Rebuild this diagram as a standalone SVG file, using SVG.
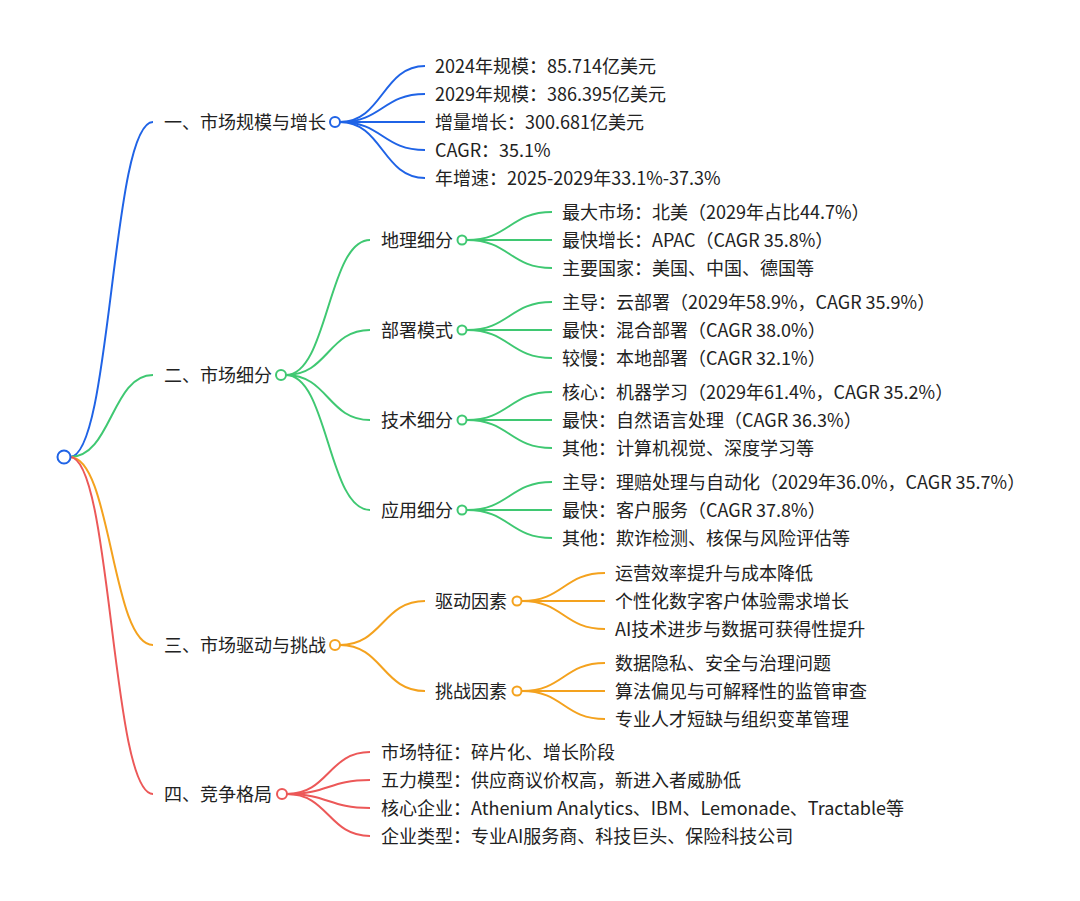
<svg xmlns="http://www.w3.org/2000/svg" width="1080" height="901" viewBox="0 0 1080 901">
<style>
text{font-family:"Noto Sans CJK SC","Noto Sans",sans-serif;font-size:18px;fill:#222}
.l{fill:none;stroke-width:2}
.b{stroke:#1f63e6}.g{stroke:#3fc872}.o{stroke:#f4a21e}.r{stroke:#ec5858}
circle{fill:#fff;stroke-width:2}
</style>
<rect width="1080" height="901" fill="#fff"/>
<g id="connectors">
<path class="l b" d="M70,457 C111.5,457 111.5,122 153,122"/>
<path class="l g" d="M70,457 C111.5,457 111.5,375 153,375"/>
<path class="l o" d="M70,457 C111.5,457 111.5,645 153,645"/>
<path class="l r" d="M70,457 C111.5,457 111.5,794 153,794"/>
<path class="l b" d="M340,122 C382.5,122 382.5,66 425,66"/>
<path class="l b" d="M340,122 C382.5,122 382.5,94 425,94"/>
<path class="l b" d="M340,122 C382.5,122 382.5,122 425,122"/>
<path class="l b" d="M340,122 C382.5,122 382.5,150 425,150"/>
<path class="l b" d="M340,122 C382.5,122 382.5,178 425,178"/>
<path class="l g" d="M286,375 C328,375 328,240 370,240"/>
<path class="l g" d="M286,375 C328,375 328,330 370,330"/>
<path class="l g" d="M286,375 C328,375 328,420 370,420"/>
<path class="l g" d="M286,375 C328,375 328,510 370,510"/>
<path class="l g" d="M467,240 C509.5,240 509.5,212 552,212"/>
<path class="l g" d="M467,240 C509.5,240 509.5,240 552,240"/>
<path class="l g" d="M467,240 C509.5,240 509.5,268 552,268"/>
<path class="l g" d="M467,330 C509.5,330 509.5,302 552,302"/>
<path class="l g" d="M467,330 C509.5,330 509.5,330 552,330"/>
<path class="l g" d="M467,330 C509.5,330 509.5,358 552,358"/>
<path class="l g" d="M467,420 C509.5,420 509.5,392 552,392"/>
<path class="l g" d="M467,420 C509.5,420 509.5,420 552,420"/>
<path class="l g" d="M467,420 C509.5,420 509.5,448 552,448"/>
<path class="l g" d="M467,510 C509.5,510 509.5,482 552,482"/>
<path class="l g" d="M467,510 C509.5,510 509.5,510 552,510"/>
<path class="l g" d="M467,510 C509.5,510 509.5,538 552,538"/>
<path class="l o" d="M340,645 C382.5,645 382.5,601 425,601"/>
<path class="l o" d="M340,645 C382.5,645 382.5,691 425,691"/>
<path class="l o" d="M522,601 C563.5,601 563.5,573 605,573"/>
<path class="l o" d="M522,601 C563.5,601 563.5,601 605,601"/>
<path class="l o" d="M522,601 C563.5,601 563.5,629 605,629"/>
<path class="l o" d="M522,691 C563.5,691 563.5,663 605,663"/>
<path class="l o" d="M522,691 C563.5,691 563.5,691 605,691"/>
<path class="l o" d="M522,691 C563.5,691 563.5,719 605,719"/>
<path class="l r" d="M287,794 C328.5,794 328.5,752 370,752"/>
<path class="l r" d="M287,794 C328.5,794 328.5,780 370,780"/>
<path class="l r" d="M287,794 C328.5,794 328.5,808 370,808"/>
<path class="l r" d="M287,794 C328.5,794 328.5,836 370,836"/>
</g>
<g id="root"><circle cx="64" cy="457" r="6.5" class="b"/></g>
<g id="n1"><text x="164" y="128.5">一、市场规模与增长</text><circle cx="335" cy="122" r="5" class="b"/></g>
<g id="n1-1"><text x="435" y="72.5">2024年规模：85.714亿美元</text></g>
<g id="n1-2"><text x="435" y="100.5">2029年规模：386.395亿美元</text></g>
<g id="n1-3"><text x="435" y="128.5">增量增长：300.681亿美元</text></g>
<g id="n1-4"><text x="435" y="156.5">CAGR：35.1%</text></g>
<g id="n1-5"><text x="435" y="184.5">年增速：2025-2029年33.1%-37.3%</text></g>
<g id="n2"><text x="164" y="381.5">二、市场细分</text><circle cx="281" cy="375" r="5" class="g"/></g>
<g id="n2-1"><text x="381" y="246.5">地理细分</text><circle cx="462" cy="240" r="4.5" class="g"/></g>
<g id="n2-1-1"><text x="562" y="218.5">最大市场：北美（2029年占比44.7%）</text></g>
<g id="n2-1-2"><text x="562" y="246.5">最快增长：APAC（CAGR 35.8%）</text></g>
<g id="n2-1-3"><text x="562" y="274.5">主要国家：美国、中国、德国等</text></g>
<g id="n2-2"><text x="381" y="336.5">部署模式</text><circle cx="462" cy="330" r="4.5" class="g"/></g>
<g id="n2-2-1"><text x="562" y="308.5">主导：云部署（2029年58.9%，CAGR 35.9%）</text></g>
<g id="n2-2-2"><text x="562" y="336.5">最快：混合部署（CAGR 38.0%）</text></g>
<g id="n2-2-3"><text x="562" y="364.5">较慢：本地部署（CAGR 32.1%）</text></g>
<g id="n2-3"><text x="381" y="426.5">技术细分</text><circle cx="462" cy="420" r="4.5" class="g"/></g>
<g id="n2-3-1"><text x="562" y="398.5">核心：机器学习（2029年61.4%，CAGR 35.2%）</text></g>
<g id="n2-3-2"><text x="562" y="426.5">最快：自然语言处理（CAGR 36.3%）</text></g>
<g id="n2-3-3"><text x="562" y="454.5">其他：计算机视觉、深度学习等</text></g>
<g id="n2-4"><text x="381" y="516.5">应用细分</text><circle cx="462" cy="510" r="4.5" class="g"/></g>
<g id="n2-4-1"><text x="562" y="488.5">主导：理赔处理与自动化（2029年36.0%，CAGR 35.7%）</text></g>
<g id="n2-4-2"><text x="562" y="516.5">最快：客户服务（CAGR 37.8%）</text></g>
<g id="n2-4-3"><text x="562" y="544.5">其他：欺诈检测、核保与风险评估等</text></g>
<g id="n3"><text x="164" y="651.5">三、市场驱动与挑战</text><circle cx="335" cy="645" r="5" class="o"/></g>
<g id="n3-1"><text x="435" y="607.5">驱动因素</text><circle cx="517" cy="601" r="4.5" class="o"/></g>
<g id="n3-1-1"><text x="615" y="579.5">运营效率提升与成本降低</text></g>
<g id="n3-1-2"><text x="615" y="607.5">个性化数字客户体验需求增长</text></g>
<g id="n3-1-3"><text x="615" y="635.5">AI技术进步与数据可获得性提升</text></g>
<g id="n3-2"><text x="435" y="697.5">挑战因素</text><circle cx="517" cy="691" r="4.5" class="o"/></g>
<g id="n3-2-1"><text x="615" y="669.5">数据隐私、安全与治理问题</text></g>
<g id="n3-2-2"><text x="615" y="697.5">算法偏见与可解释性的监管审查</text></g>
<g id="n3-2-3"><text x="615" y="725.5">专业人才短缺与组织变革管理</text></g>
<g id="n4"><text x="164" y="800.5">四、竞争格局</text><circle cx="282" cy="794" r="5" class="r"/></g>
<g id="n4-1"><text x="381" y="758.5">市场特征：碎片化、增长阶段</text></g>
<g id="n4-2"><text x="381" y="786.5">五力模型：供应商议价权高，新进入者威胁低</text></g>
<g id="n4-3"><text x="381" y="814.5">核心企业：Athenium Analytics、IBM、Lemonade、Tractable等</text></g>
<g id="n4-4"><text x="381" y="842.5">企业类型：专业AI服务商、科技巨头、保险科技公司</text></g>
</svg>
